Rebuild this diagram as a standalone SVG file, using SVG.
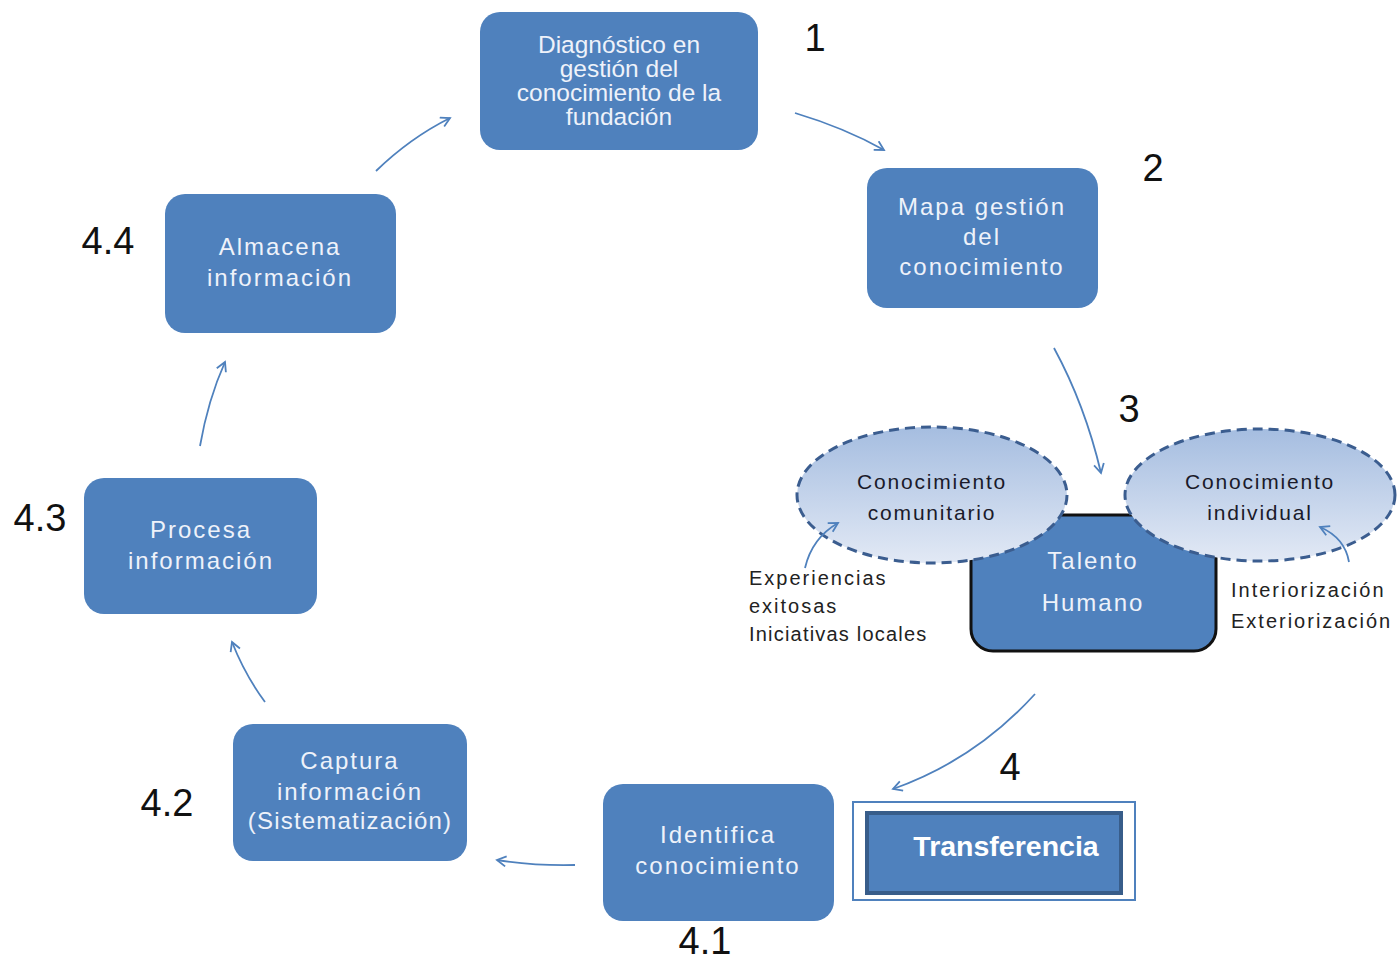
<svg xmlns="http://www.w3.org/2000/svg" width="1397" height="961" viewBox="0 0 1397 961">
<defs>
<style>
.box{fill:#4f81bd;}
.bt{font-family:"Liberation Sans",Arial,sans-serif;font-size:24px;fill:#eef2fa;text-anchor:middle;letter-spacing:2px;}
.bt1{font-family:"Liberation Sans",Arial,sans-serif;font-size:24.5px;fill:#eef2fa;text-anchor:middle;}
.num{font-family:"Liberation Sans",Arial,sans-serif;font-size:38px;fill:#111;text-anchor:middle;}
.lab{font-family:"Liberation Sans",Arial,sans-serif;font-size:20px;fill:#222;letter-spacing:2px;}
.et{font-family:"Liberation Sans",Arial,sans-serif;font-size:21px;fill:#1a1a2a;text-anchor:middle;letter-spacing:1.8px;}
.con{fill:none;stroke:#4f81bd;stroke-width:1.8;marker-end:url(#ah);}
.ell{fill:url(#eg);stroke:#3b5d8f;stroke-width:3;stroke-dasharray:10 6;}
</style>
<linearGradient id="eg" x1="0" y1="0" x2="0" y2="1">
<stop offset="0" stop-color="#a5bde0"/>
<stop offset="1" stop-color="#e2e9f5"/>
</linearGradient>
<marker id="ah" viewBox="0 0 12 12" refX="10" refY="6" markerWidth="12" markerHeight="12" markerUnits="userSpaceOnUse" orient="auto">
<path d="M1,1 L10,6 L1,11" fill="none" stroke="#4f81bd" stroke-width="1.8"/>
</marker>
</defs>
<rect width="1397" height="961" fill="#fff"/>

<g id="connectors">
<path class="con" d="M795,113 Q845,128 884,150"/>
<path class="con" d="M1054,348 Q1085,405 1101,473"/>
<path class="con" d="M1035,694 Q975,760 893,789"/>
<path class="con" d="M575,865 Q535,866 497,860"/>
<path class="con" d="M265,702 Q245,675 232,642"/>
<path class="con" d="M200,446 Q208,400 225,362"/>
<path class="con" d="M376,171 Q410,138 450,118"/>
</g>

<g id="n1">
<rect class="box" x="480" y="12" width="278" height="138" rx="20"/>
<text class="bt1" x="619" y="53">Diagnóstico en</text>
<text class="bt1" x="619" y="77">gestión del</text>
<text class="bt1" x="619" y="101">conocimiento de la</text>
<text class="bt1" x="619" y="125">fundación</text>
</g>
<g id="n2">
<rect class="box" x="867" y="168" width="231" height="140" rx="20"/>
<text class="bt" x="982" y="215">Mapa gestión</text>
<text class="bt" x="982" y="245">del</text>
<text class="bt" x="982" y="275">conocimiento</text>
</g>
<g id="n44">
<rect class="box" x="165" y="194" width="231" height="139" rx="20"/>
<text class="bt" x="280" y="255">Almacena</text>
<text class="bt" x="280" y="286">información</text>
</g>
<g id="n43">
<rect class="box" x="84" y="478" width="233" height="136" rx="20"/>
<text class="bt" x="201" y="538">Procesa</text>
<text class="bt" x="201" y="569">información</text>
</g>
<g id="n42">
<rect class="box" x="233" y="724" width="234" height="137" rx="20"/>
<text class="bt" x="350" y="769">Captura</text>
<text class="bt" x="350" y="800">información</text>
<text class="bt" style="letter-spacing:1.2px" x="350" y="829">(Sistematización)</text>
</g>
<g id="n41">
<rect class="box" x="603" y="784" width="231" height="137" rx="20"/>
<text class="bt" x="718" y="843">Identifica</text>
<text class="bt" x="718" y="874">conocimiento</text>
</g>

<g id="n3">
<rect x="971" y="515" width="245" height="136" rx="22" fill="#4f81bd" stroke="#111" stroke-width="3"/>
<text class="bt" x="1093" y="569">Talento</text>
<text class="bt" x="1093" y="611">Humano</text>
</g>
<g id="e1">
<ellipse class="ell" cx="932" cy="495" rx="135" ry="68"/>
<text class="et" x="932" y="489">Conocimiento</text>
<text class="et" x="932" y="520">comunitario</text>
</g>
<g id="e2">
<ellipse class="ell" cx="1260" cy="495" rx="135" ry="66"/>
<text class="et" x="1260" y="489">Conocimiento</text>
<text class="et" x="1260" y="520">individual</text>
</g>
<g id="smallarrows">
<path class="con" d="M805,568 Q812,538 838,523"/>
<path class="con" d="M1349,562 Q1345,538 1320,527"/>
</g>
<g id="labels">
<text class="lab" x="749" y="585">Experiencias</text>
<text class="lab" x="749" y="613">exitosas</text>
<text class="lab" style="letter-spacing:1.2px" x="749" y="641">Iniciativas locales</text>
<text class="lab" x="1231" y="597">Interiorización</text>
<text class="lab" x="1231" y="628">Exteriorización</text>
</g>

<g id="n4">
<rect x="853" y="802" width="282" height="98" fill="#fff" stroke="#4f81bd" stroke-width="2"/>
<rect x="867" y="813" width="254" height="80" fill="#4f81bd" stroke="#385d8a" stroke-width="4"/>
<text x="1006" y="856" font-family="Liberation Sans,Arial,sans-serif" font-weight="bold" font-size="28.5" fill="#fff" text-anchor="middle">Transferencia</text>
</g>

<g id="numbers">
<text class="num" x="815" y="51">1</text>
<text class="num" x="1153" y="181">2</text>
<text class="num" x="1129" y="422">3</text>
<text class="num" x="1010" y="780">4</text>
<text class="num" x="705" y="954">4.1</text>
<text class="num" x="167" y="816">4.2</text>
<text class="num" x="40" y="531">4.3</text>
<text class="num" x="108" y="254">4.4</text>
</g>
</svg>
